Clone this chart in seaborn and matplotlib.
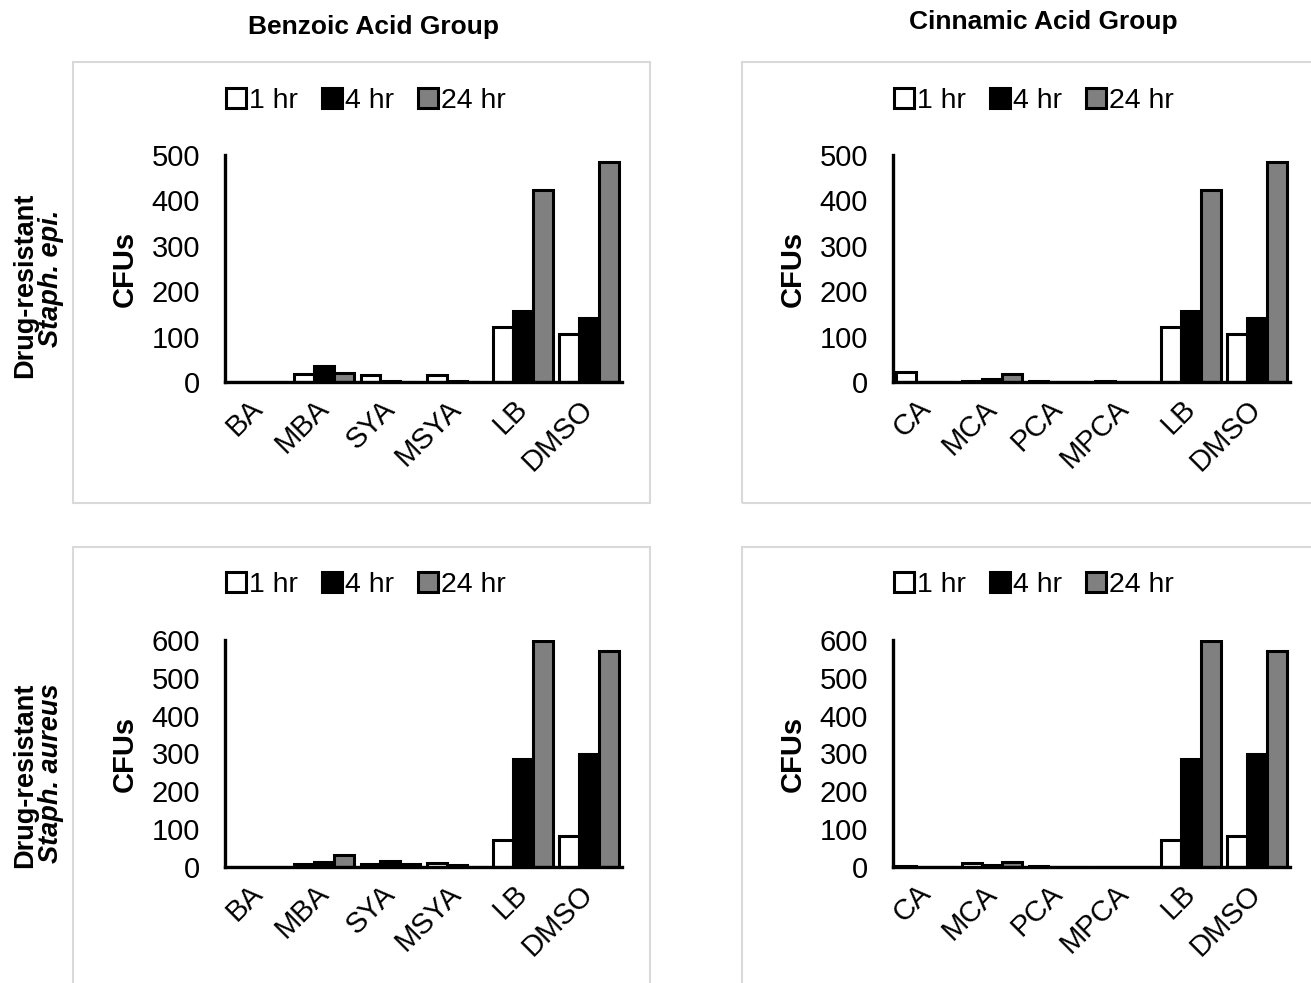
import matplotlib
matplotlib.use("Agg")
import matplotlib.pyplot as plt
from matplotlib.patches import Rectangle, Patch
import seaborn as sns
import pandas as pd

# ---------------- data ----------------
benzoic_cats = ["BA", "MBA", "SYA", "MSYA", "LB", "DMSO"]
cinnamic_cats = ["CA", "MCA", "PCA", "MPCA", "LB", "DMSO"]
times = ["1 hr", "4 hr", "24 hr"]

epi_benzoic_1hr = [0, 18, 15, 15, 122, 105]
epi_benzoic_4hr = [0, 35, 2, 2, 157, 140]
epi_benzoic_24hr = [0, 20, 0, 0, 423, 485]

epi_cinnamic_1hr = [22, 2, 2, 3, 122, 105]
epi_cinnamic_4hr = [0, 7, 0, 1, 157, 140]
epi_cinnamic_24hr = [0, 18, 0, 0, 423, 485]

aureus_benzoic_1hr = [0, 8, 8, 10, 72, 83]
aureus_benzoic_4hr = [0, 14, 15, 6, 285, 300]
aureus_benzoic_24hr = [0, 32, 8, 0, 597, 572]

aureus_cinnamic_1hr = [2, 10, 2, 1, 72, 83]
aureus_cinnamic_4hr = [1, 5, 0, 1, 285, 300]
aureus_cinnamic_24hr = [0, 14, 0, 0, 597, 572]

colors = {"1 hr": "white", "4 hr": "black", "24 hr": "#808080"}


def make_df(cats, v1, v4, v24):
    rows = []
    for t, vals in zip(times, [v1, v4, v24]):
        for c, v in zip(cats, vals):
            rows.append({"cat": c, "time": t, "val": v})
    return pd.DataFrame(rows)


sns.set_style("white")
plt.rcParams["font.family"] = ["Liberation Sans", "DejaVu Sans"]
plt.rcParams["text.color"] = "black"
plt.rcParams["xtick.color"] = "black"
plt.rcParams["ytick.color"] = "black"
plt.rcParams["axes.labelcolor"] = "black"

W, H = 1311, 983
fig = plt.figure(figsize=(W / 100, H / 100), dpi=100)


def fx(px):
    return px / W


def fy(py):
    return 1 - py / H


# panel boxes
for (x0, y0, x1, y1) in [(73, 62, 650, 503), (742, 62, 1315, 503),
                         (73, 547, 650, 990), (742, 547, 1315, 990)]:
    fig.patches.append(Rectangle((fx(x0), fy(y1)), fx(x1 - x0), (y1 - y0) / H,
                                 transform=fig.transFigure, fill=False,
                                 edgecolor="#d9d9d9", linewidth=1.5, zorder=0))

panels = [
    (225, 382, 500, benzoic_cats, epi_benzoic_1hr, epi_benzoic_4hr, epi_benzoic_24hr, 366, 101),
    (893, 382, 500, cinnamic_cats, epi_cinnamic_1hr, epi_cinnamic_4hr, epi_cinnamic_24hr, 1034, 101),
    (225, 867, 600, benzoic_cats, aureus_benzoic_1hr, aureus_benzoic_4hr, aureus_benzoic_24hr, 366, 585),
    (893, 867, 600, cinnamic_cats, aureus_cinnamic_1hr, aureus_cinnamic_4hr, aureus_cinnamic_24hr, 1034, 585),
]

for (left, bottom, ymax, cats, v1, v4, v24, lx, ly) in panels:
    ax = fig.add_axes([fx(left), fy(bottom), 397 / W, 227 / H])
    df = make_df(cats, v1, v4, v24)
    sns.barplot(data=df, x="cat", y="val", hue="time", hue_order=times,
                order=cats, palette=colors, edgecolor="black", linewidth=2.2,
                width=0.9, errorbar=None, legend=False, ax=ax, saturation=1)
    ax.set_xlim(-0.5, len(cats) - 0.5)
    ax.set_ylim(0, ymax)
    ax.set_yticks(range(0, ymax + 1, 100))
    ax.set_xticks(range(len(cats)))
    ax.set_xticklabels(cats, rotation=45, ha="right", va="center",
                       rotation_mode="anchor", fontsize=21)
    ax.set_xticks([i - 0.5 for i in range(len(cats) + 1)], minor=True)
    ax.tick_params(axis="x", which="major", length=0, pad=16)
    ax.tick_params(axis="x", which="minor", length=8, width=2.2,
                   direction="out", color="black")
    ax.tick_params(axis="y", length=8, width=2.2, direction="out",
                   color="black", labelsize=21, pad=10, labelcolor="black")
    ax.tick_params(axis="x", labelcolor="black")
    for s in ["top", "right"]:
        ax.spines[s].set_visible(False)
    for s in ["left", "bottom"]:
        ax.spines[s].set_linewidth(2.4)
        ax.spines[s].set_color("black")
    ax.set_xlabel("")
    ax.set_ylabel("")
    ax.patch.set_alpha(0)
    # y label
    fig.text(fx(left - 100), fy(bottom - 113), "CFUs", rotation=90,
             ha="center", va="center", fontsize=21, fontweight="bold")
    # legend
    handles = [Patch(facecolor=colors[t], edgecolor="black", linewidth=2.2) for t in times]
    fig.legend(handles, times, loc="center", bbox_to_anchor=(fx(lx), fy(ly)),
               ncol=3, frameon=False, fontsize=20.5, handlelength=0.68,
               handleheight=0.68, handletextpad=0.12, columnspacing=0.85,
               borderaxespad=0, borderpad=0)

# column titles
fig.text(fx(373), fy(27), "Benzoic Acid Group", ha="center", va="center",
         fontsize=19, fontweight="bold")
fig.text(fx(1043), fy(22), "Cinnamic Acid Group", ha="center", va="center",
         fontsize=19, fontweight="bold")

# row labels
fig.text(fx(25), fy(285), "Drug-resistant", rotation=90, ha="center",
         va="center", fontsize=19.5, fontweight="bold")
fig.text(fx(51), fy(278), "Staph. epi.", rotation=90, ha="center",
         va="center", fontsize=19.5, fontweight="bold", fontstyle="italic")
fig.text(fx(25), fy(775), "Drug-resistant", rotation=90, ha="center",
         va="center", fontsize=19.5, fontweight="bold")
fig.text(fx(51), fy(773), "Staph. aureus", rotation=90, ha="center",
         va="center", fontsize=19.5, fontweight="bold", fontstyle="italic")

fig.savefig("out.png", dpi=100)
